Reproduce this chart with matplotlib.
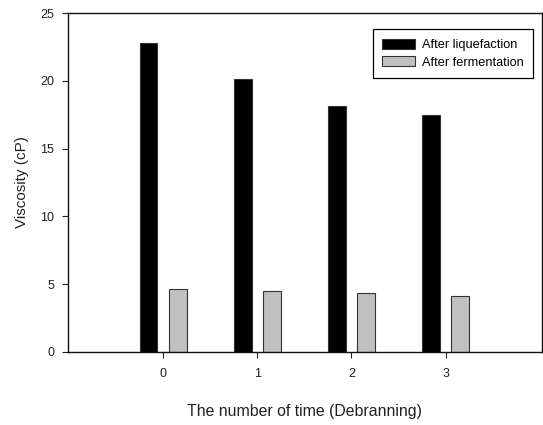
import numpy as np
import matplotlib.pyplot as plt

plt.rcParams['font.family'] = ['Liberation Sans', 'DejaVu Sans']

times = [0, 1, 2, 3]
after_liquefaction = [22.8, 20.15, 18.15, 17.5]
after_fermentation = [4.6, 4.45, 4.3, 4.1]

fig = plt.figure(figsize=(5.43, 4.25), dpi=100)
ax = fig.add_axes([0.1252, 0.1725, 0.8724, 0.7962])

x = np.array(times)
w = 0.19
off = 0.155
ax.bar(x - off, after_liquefaction, width=w, color='black', edgecolor='#333333',
       linewidth=0.8, label='After liquefaction')
ax.bar(x + off, after_fermentation, width=w, color='#c0c0c0', edgecolor='#333333',
       linewidth=0.8, label='After fermentation')

ax.set_xlim(-1.01, 4.02)
ax.set_ylim(0, 25)
ax.set_xticks(times)
ax.set_yticks([0, 5, 10, 15, 20, 25])
ax.tick_params(direction='out', length=4, width=0.8, labelsize=9,
               colors='#222222', pad=6)
ax.tick_params(axis='x', pad=8)
for s in ax.spines.values():
    s.set_linewidth(1.0)
    s.set_color('#111111')

ax.set_xlabel('The number of time (Debranning)', fontsize=11.4, color='#222222', labelpad=17)
ax.set_ylabel('Viscosity (cP)', fontsize=11, color='#222222', labelpad=8)

leg = ax.legend(loc='upper right', bbox_to_anchor=(0.982, 0.953), fontsize=9.2,
                frameon=True, fancybox=False, edgecolor='black', framealpha=1,
                handlelength=2.6, handleheight=0.8, handletextpad=0.5,
                borderpad=0.75, labelspacing=0.4, borderaxespad=0)
leg.get_frame().set_linewidth(0.9)

fig.savefig('out.png', dpi=100)
